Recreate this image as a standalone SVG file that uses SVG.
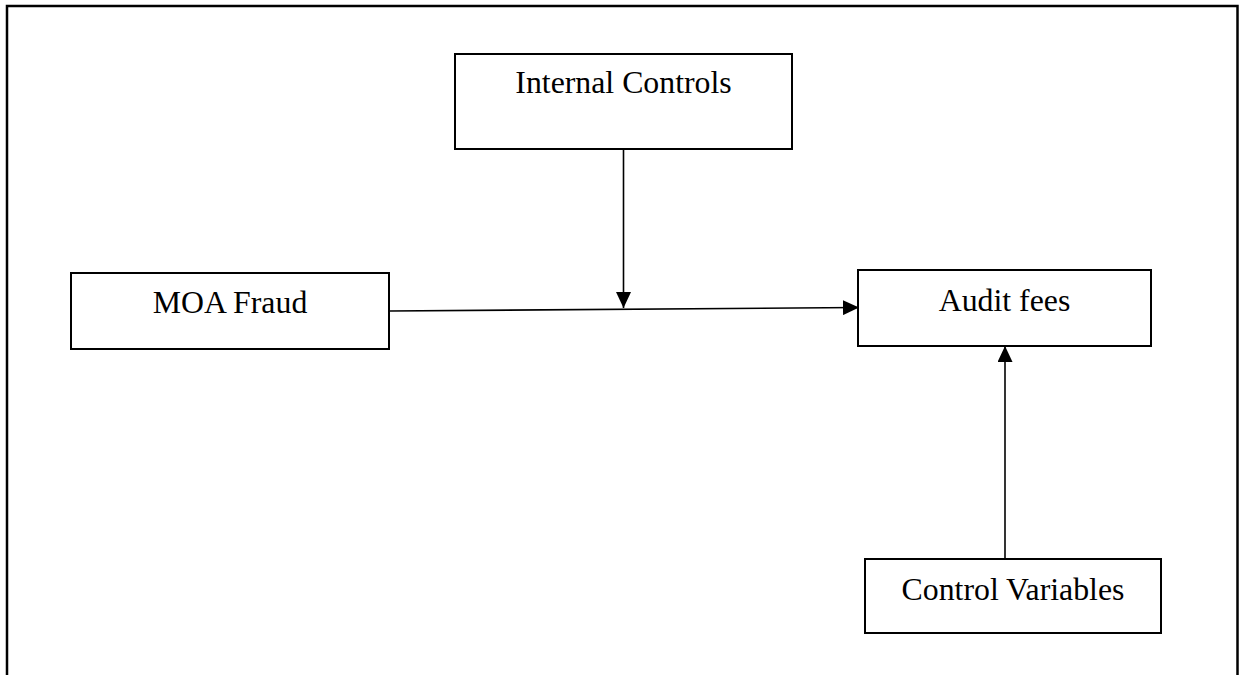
<svg xmlns="http://www.w3.org/2000/svg" width="1239" height="675" viewBox="0 0 1239 675">
  <defs>
    <style>
      .box { fill: #ffffff; stroke: #000000; stroke-width: 2; }
      .label { font-family: "Liberation Serif", "Times New Roman", serif; font-size: 31.8px; fill: #000000; text-anchor: middle; }
      .edge { stroke: #000000; stroke-width: 1.6; fill: none; }
      .frame { stroke: #000000; stroke-width: 2.5; fill: none; }
    </style>
    <marker id="arrow" viewBox="0 0 16 15" refX="16" refY="7.5" markerWidth="16" markerHeight="15" markerUnits="userSpaceOnUse" orient="auto">
      <path d="M0,0 L16,7.5 L0,15 Z" fill="#000000"/>
    </marker>
  </defs>

  <rect x="0" y="0" width="1239" height="675" fill="#ffffff"/>

  <!-- page frame, open at the bottom -->
  <path class="frame" d="M7,676 L7,6 L1237.5,6 L1237.5,676"/>

  <g id="connectors">
    <!-- MOA Fraud to Audit fees -->
    <line class="edge" x1="390" y1="311" x2="859" y2="307.5" marker-end="url(#arrow)"/>
    <!-- Internal Controls moderating the main path -->
    <line class="edge" x1="623.5" y1="150" x2="623.5" y2="308" marker-end="url(#arrow)"/>
    <!-- Control Variables to Audit fees -->
    <line class="edge" x1="1005" y1="559" x2="1005" y2="346" marker-end="url(#arrow)"/>
  </g>

  <g id="internal-controls">
    <rect class="box" x="455" y="54" width="337" height="95"/>
    <text class="label" x="623.5" y="93">Internal Controls</text>
  </g>

  <g id="moa-fraud">
    <rect class="box" x="71" y="273" width="318" height="76"/>
    <text class="label" x="230" y="313">MOA Fraud</text>
  </g>

  <g id="audit-fees">
    <rect class="box" x="858" y="270" width="293" height="76"/>
    <text class="label" x="1004.5" y="311">Audit fees</text>
  </g>

  <g id="control-variables">
    <rect class="box" x="865" y="559" width="296" height="74"/>
    <text class="label" x="1013" y="600">Control Variables</text>
  </g>
</svg>
